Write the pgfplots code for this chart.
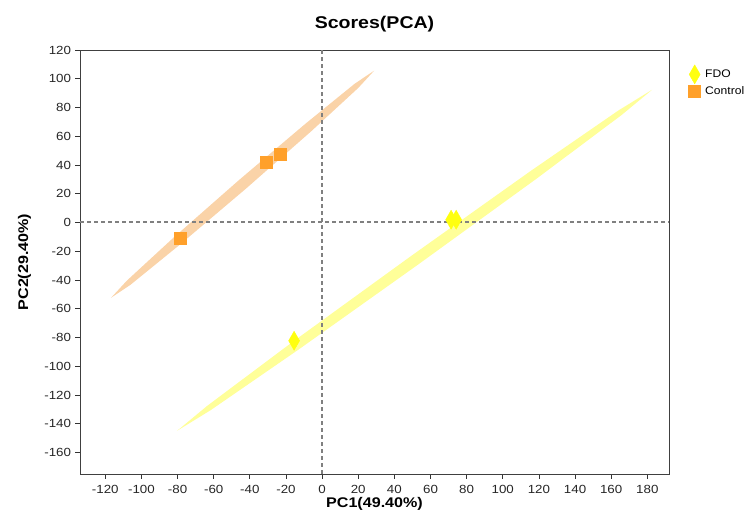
\documentclass[border=0pt]{standalone}
\usepackage{pgfplots}
\pgfplotsset{compat=1.18}
\usepackage{graphicx}
\usepackage{fontspec}
\setmainfont{Liberation Sans}
\definecolor{ctrlfill}{HTML}{FAD3A8}
\definecolor{ctrlmark}{HTML}{FFA02A}
\definecolor{fdofill}{HTML}{FFFF99}
\definecolor{fdomark}{HTML}{FFFF10}
\begin{document}
\begin{tikzpicture}
\useasboundingbox (0,0) rectangle (747pt,511pt);
\begin{axis}[
  at={(80pt,37pt)}, anchor=south west,
  width=589pt, height=424pt, scale only axis,
  xmin=-134, xmax=192, ymin=-175, ymax=120,
  xtick={-120,-100,...,180}, ytick={-160,-140,...,120},
  tick align=outside, tick pos=left,
  major tick length=5pt,
  axis line style={black!75, line width=0.8pt},
  tick style={black!80, line width=0.8pt},
  tick label style={font=\fontsize{11.8}{13}\selectfont, text=black!85, xscale=1.13},
  xticklabel style={yshift=-3pt},
  /pgf/number format/assume math mode=true,
  title={\scalebox{1.15}[1]{\bfseries Scores(PCA)}},
  title style={font=\fontsize{17}{19}\selectfont, at={(0.5,1)}, yshift=8pt},
  xlabel={\scalebox{1.15}[1]{\bfseries PC1(49.40\%)}},
  ylabel={\scalebox{1.15}[1]{\bfseries PC2(29.40\%)}},
  label style={font=\fontsize{14}{16}\selectfont},
  xlabel style={yshift=3pt},
  ylabel style={yshift=6pt},
  legend style={at={(1.028,0.97)}, anchor=north west, draw=none, fill=none,
    font=\fontsize{11}{13}\selectfont, row sep=1pt, nodes={inner xsep=4.5pt}},
  legend cell align=left,
  clip=false,
]
% ellipses
\addplot[draw=none, fill=ctrlfill, forget plot] coordinates {
 (28.8,105.6) (20.0,93.6) (-5.9,63.6) (-42.0,23.7) (-78.7,-15.4) (-106.0,-43.3)
 (-116.8,-52.4) (-108.0,-40.4) (-82.1,-10.4) (-46.0,29.5) (-9.3,68.6) (18.0,96.5)
} -- cycle;
\addplot[draw=none, fill=fdofill, forget plot] coordinates {
 (182.6,92.3) (165.9,74.9) (118.5,30.3) (53.0,-29.4) (-12.9,-88.3) (-61.7,-130.6)
 (-80.2,-144.9) (-63.5,-127.5) (-16.1,-82.9) (49.4,-23.2) (115.3,35.7) (164.1,78.0)
} -- cycle;
% zero lines
\addplot[black!50, line width=2pt, dash pattern=on 4pt off 3pt, forget plot] coordinates {(0,-175) (0,120)};
\addplot[black!50, line width=2pt, dash pattern=on 4pt off 3pt, forget plot] coordinates {(-134,0) (192,0)};
% points
\addplot[only marks, mark=diamond*, mark size=9.5pt, mark options={xscale=0.77, fill=fdomark, draw=fdomark}] coordinates {
 (71.4,1.9) (74.2,1.9) (-15.5,-82.3)
};
\addlegendentry{\scalebox{1.1}[1]{FDO}}
\addplot[only marks, mark=square*, mark size=6pt, mark options={fill=ctrlmark, draw=ctrlmark}] coordinates {
 (-78.6,-10.6) (-31.0,42.0) (-23.4,47.6)
};
\addlegendentry{\scalebox{1.1}[1]{Control}}
\end{axis}
\end{tikzpicture}
\end{document}
